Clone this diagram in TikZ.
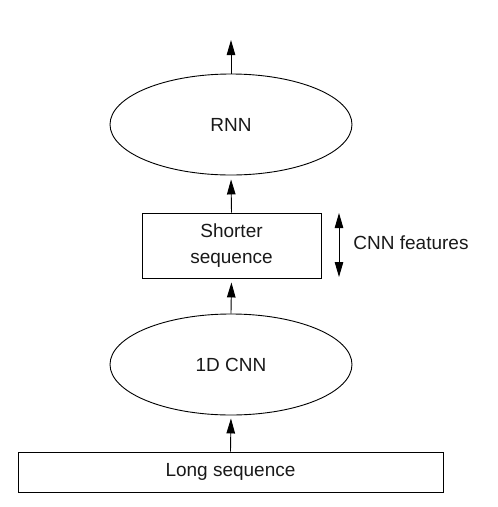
\documentclass[tikz,border=0pt]{standalone}
\usepackage{fontspec}
\setmainfont{Liberation Sans}
\usetikzlibrary{shapes.geometric,arrows.meta}
\begin{document}
\begin{tikzpicture}[x=1pt,y=-1pt,
  every node/.style={font=\fontsize{19}{26}\selectfont, text=black!90},
  ell/.style={draw, ellipse, line width=0.9pt, minimum width=242pt, minimum height=101pt, inner sep=0pt},
  box/.style={draw, rectangle, line width=0.9pt, inner sep=0pt, align=center},
  arr/.style={line width=0.9pt, -{Triangle[length=15pt,width=8.5pt]}},
  darr/.style={line width=0.9pt, {Triangle[length=15pt,width=8.5pt]}-{Triangle[length=15pt,width=8.5pt]}}]
\useasboundingbox (0,0) rectangle (498,507);
\node[ell] (rnn) at (231,124.5) {RNN};
\node[box, minimum width=179pt, minimum height=65pt] (short) at (231.5,245.5) {Shorter\\sequence};
\node[ell] (cnn) at (231,364.5) {1D CNN};
\node[box, minimum width=425pt, minimum height=40pt] (long) at (230.5,472) {Long sequence};
\coordinate (top) at (231,40);
\coordinate (ft) at (339,213);
\coordinate (fb) at (339,277);
\node (feat) at (411,243) {CNN features};
\draw[arr] (rnn.north) -- (top);
\draw[arr, shorten >=4pt] (short.north) -- (rnn.south);
\draw[arr, shorten >=4pt] (cnn.north) -- (short.south);
\draw[arr, shorten >=3pt] (long.north) -- (cnn.south);
\draw[darr] (ft) -- (fb);
\end{tikzpicture}
\end{document}
